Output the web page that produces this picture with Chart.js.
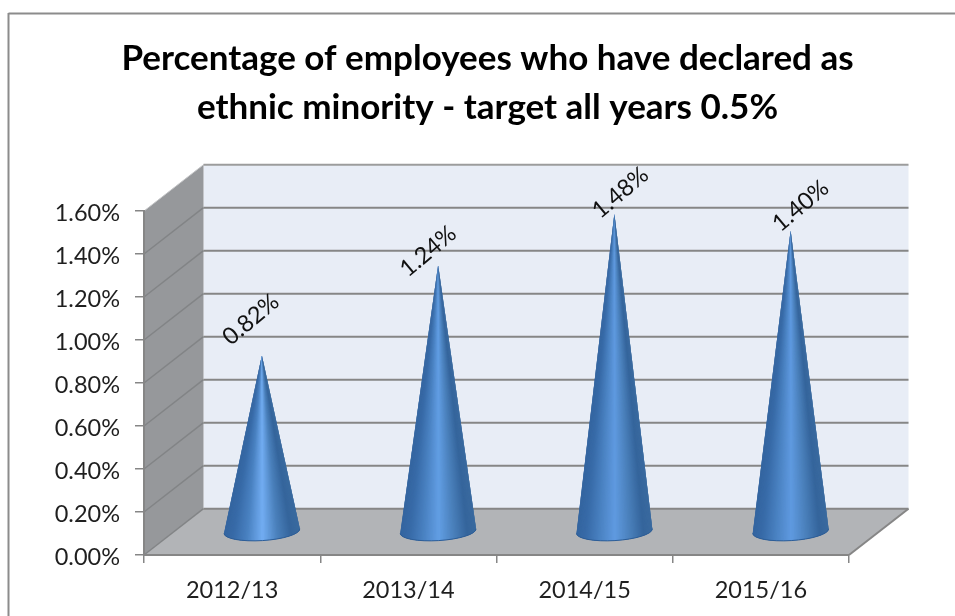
<!DOCTYPE html>
<html>
<head>
<meta charset="utf-8">
<title>Ethnic minority declarations</title>
<script src="https://cdn.jsdelivr.net/npm/chart.js@4"></script>
<style>
  html, body { margin: 0; padding: 0; background: #fff; }
  canvas { display: block; }
</style>
</head>
<body>
<canvas id="coneChart" width="955" height="616"></canvas>
<script>
const titleLines = ['Percentage of employees who have declared as', 'ethnic minority - target all years 0.5%'];
const years = ['2012/13', '2013/14', '2014/15', '2015/16'];
const declared = [0.82, 1.24, 1.48, 1.40];
const axisMax = 1.6;
const axisStep = 0.2;

// depth of the fake 3d box, in px
const depthX = 59.5;
const depthY = 46.3;
const lineGrey = '#868686';
const fontName = 'Lato, "Open Sans", sans-serif';

// hand placed value labels, relative to the cone tip
const labelNudge = [[-11, -36], [-10, -14], [6, -21], [10, -25]];
// centre colour of each cone
const coneGlow = ['#72adf2', '#629ee4', '#5f9ae0', '#5f9ae0'];

function hexToRgb(hex) {
  return [1, 3, 5].map(i => parseInt(hex.substr(i, 2), 16));
}

// colour across the cone, t runs from 0 (left edge) to 1 (right edge)
function shade(t, glow) {
  const stops = [
    [0, '#3465a0'], [0.12, '#386ba8'], [0.3, '#4a82c2'],
    [0.5, glow], [0.7, '#4a80bb'], [0.88, '#35659c'], [1, '#3a6a9f']
  ];
  for (let i = 1; i < stops.length; i++) {
    if (t <= stops[i][0]) {
      const f = (t - stops[i - 1][0]) / (stops[i][0] - stops[i - 1][0]);
      const a = hexToRgb(stops[i - 1][1]);
      const b = hexToRgb(stops[i][1]);
      return 'rgb(' + a.map((v, k) => Math.round(v + (b[k] - v) * f)).join(',') + ')';
    }
  }
  return stops[stops.length - 1][1];
}

function segment(ctx, x1, y1, x2, y2, color, width) {
  ctx.strokeStyle = color;
  ctx.lineWidth = width;
  ctx.beginPath();
  ctx.moveTo(x1, y1);
  ctx.lineTo(x2, y2);
  ctx.stroke();
}

function polygon(ctx, pts, color) {
  ctx.fillStyle = color;
  ctx.beginPath();
  pts.forEach((p, i) => i ? ctx.lineTo(p[0], p[1]) : ctx.moveTo(p[0], p[1]));
  ctx.closePath();
  ctx.fill();
}

const boxPlugin = {
  id: 'box3d',
  // outer frame, walls and floor go underneath the axes
  beforeDraw(chart) {
    const { ctx, chartArea: area, scales } = chart;
    const y = scales.y;
    const l = area.left, r = area.right, b = y.getPixelForValue(0), t = y.getPixelForValue(axisMax);
    ctx.save();

    segment(ctx, 8.5, 13.5, 955, 13.5, '#8c8c8c', 2);
    segment(ctx, 8.5, 13, 8.5, 616, '#8c8c8c', 2);

    polygon(ctx, [[l + depthX, t - depthY], [r + depthX, t - depthY], [r + depthX, b - depthY], [l + depthX, b - depthY]], '#e8edf6');
    polygon(ctx, [[l, t], [l + depthX, t - depthY], [l + depthX, b - depthY], [l, b]], '#96989b');
    polygon(ctx, [[l, b], [l + depthX, b - depthY], [r + depthX, b - depthY], [r, b]], '#b2b4b7');

    segment(ctx, l, t, l + depthX, t - depthY, '#c4c5c7', 1);
    segment(ctx, l + depthX, t - depthY, r + depthX, t - depthY, '#9c9c9c', 2);

    y.ticks.forEach(tick => {
      if (tick.value >= axisMax) return;
      const py = y.getPixelForValue(tick.value);
      segment(ctx, l, py, l + depthX, py - depthY, '#828486', 1.5);
      segment(ctx, l + depthX, py - depthY, r + depthX, py - depthY, lineGrey, 2);
    });
    segment(ctx, r, b, r + depthX, b - depthY, lineGrey, 2);
    ctx.restore();
  },
  // cones and their rotated value labels
  afterDatasetsDraw(chart) {
    const { ctx } = chart;
    const bars = chart.getDatasetMeta(0).data;
    const rx = 38, ry = 9.5, tilt = -3.5 * Math.PI / 180, steps = 80;
    ctx.save();
    bars.forEach((bar, i) => {
      const cx = bar.x + depthX / 2;
      const baseY = bar.base - depthY / 2;
      const tipY = bar.y - depthY / 2;
      const rim = s => {
        const a = Math.PI - Math.min(s, steps) * Math.PI / steps;
        const ex = rx * Math.cos(a), ey = ry * Math.sin(a);
        return [cx + ex * Math.cos(tilt) - ey * Math.sin(tilt), baseY + ex * Math.sin(tilt) + ey * Math.cos(tilt)];
      };
      // fan of thin triangles from the tip round the front of the rim,
      // each one overlaps the next so no seams show
      for (let s = 0; s < steps; s++) {
        const mid = Math.PI - (s + 0.5) * Math.PI / steps;
        polygon(ctx, [[cx, tipY], rim(s), rim(s + 3)], shade((1 + Math.cos(mid)) / 2, coneGlow[i]));
      }
      ctx.strokeStyle = '#2d5d96';
      ctx.lineWidth = 1;
      ctx.beginPath();
      ctx.ellipse(cx, baseY, rx, ry, tilt, 0, Math.PI);
      ctx.stroke();

      const nudge = labelNudge[i];
      ctx.save();
      ctx.translate(cx + nudge[0], tipY + nudge[1]);
      ctx.rotate(-40 * Math.PI / 180);
      ctx.font = '23.5px ' + fontName;
      ctx.fillStyle = '#111';
      ctx.textAlign = 'center';
      ctx.textBaseline = 'middle';
      ctx.fillText(declared[i].toFixed(2) + '%', 0, 0);
      ctx.restore();
    });
    ctx.restore();
  }
};

new Chart(document.getElementById('coneChart'), {
  type: 'bar',
  data: {
    labels: years,
    datasets: [{
      data: declared,
      backgroundColor: 'transparent',
      borderWidth: 0
    }]
  },
  plugins: [boxPlugin],
  options: {
    responsive: false,
    animation: false,
    layout: { padding: { left: 20, right: 0, top: 0, bottom: 0 } },
    plugins: {
      legend: { display: false },
      tooltip: { enabled: false },
      title: {
        display: true,
        text: titleLines,
        color: '#000',
        font: { family: fontName, size: 35, weight: 'bold', lineHeight: 1.4 },
        padding: { top: 34.5, bottom: 78.5 }
      }
    },
    scales: {
      x: {
        afterFit(scale) { scale.height = 61; },
        border: { color: lineGrey, width: 2 },
        grid: { drawOnChartArea: false, color: lineGrey, lineWidth: 1.5, tickLength: 8 },
        ticks: {
          color: '#1f1f1f',
          font: { family: fontName, size: 23.5 },
          padding: 13.5,
          maxRotation: 0,
          autoSkip: false
        }
      },
      y: {
        min: 0,
        max: axisMax,
        afterFit(scale) { scale.width = 124; },
        border: { color: lineGrey, width: 2 },
        grid: { drawOnChartArea: false, color: lineGrey, lineWidth: 1.5, tickLength: 9 },
        ticks: {
          stepSize: axisStep,
          color: '#1f1f1f',
          font: { family: fontName, size: 23.5 },
          padding: 15,
          labelOffset: 2,
          callback: v => v.toFixed(2) + '%'
        }
      },
      // empty axis that only keeps the gutter right of the plot
      gutter: {
        position: 'right',
        afterFit(scale) { scale.width = 106; },
        border: { display: false },
        grid: { display: false },
        ticks: { display: false }
      }
    }
  }
});
</script>
</body>
</html>
